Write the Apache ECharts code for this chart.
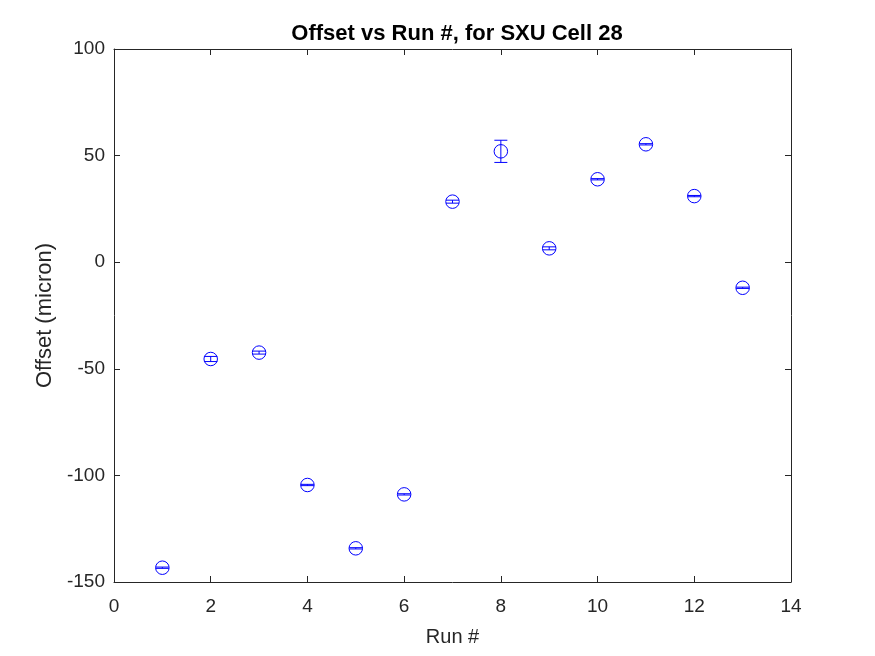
<!DOCTYPE html>
<html>
<head>
<meta charset="utf-8">
<script src="https://cdn.jsdelivr.net/npm/echarts@6/dist/echarts.min.js"></script>
<style>html,body{margin:0;padding:0;background:#fff;}#c{width:875px;height:656px;}</style>
</head>
<body>
<div id="c"></div>
<script>
var runs = [1,2,3,4,5,6,7,8,9,10,11,12,13];
var offsets = [-143.3,-45.4,-42.4,-104.5,-134.2,-108.9,28.4,52.0,6.5,38.9,55.3,31.0,-12.0];
var errors = [0.3,1.2,0.7,0.3,0.3,0.3,0.7,5.2,0.7,0.3,0.3,0.3,0.3];
var xTicks = [0,2,4,6,8,10,12,14];
var yTicks = [-150,-100,-50,0,50,100];

var pts = runs.map(function(r,i){return [r, offsets[i], errors[i]];});
var font = 'Liberation Sans, Arial, sans-serif';
var axColor = '#262626';

var chart = echarts.init(document.getElementById('c'), null, {renderer:'canvas'});
function baseX(pos, labels){
  return {type:'value', position:pos, min:xTicks[0], max:xTicks[xTicks.length-1], interval:xTicks[1]-xTicks[0],
    axisLine:{show:true, onZero:false, lineStyle:{color:axColor,width:1}},
    axisTick:{show:true, inside:true, length:6, lineStyle:{color:axColor}},
    axisLabel:{show:labels, color:axColor, fontSize:19, fontFamily:font, margin:15},
    splitLine:{show:false},
    name: labels ? 'Run #' : '', nameLocation:'middle', nameGap:45,
    nameTextStyle:{color:axColor, fontSize:20, fontFamily:font}};
}
function baseY(pos, labels){
  return {type:'value', position:pos, min:yTicks[0], max:yTicks[yTicks.length-1], interval:yTicks[1]-yTicks[0],
    axisLine:{show:true, onZero:false, lineStyle:{color:axColor,width:1}},
    axisTick:{show:true, inside:true, length:6, lineStyle:{color:axColor}},
    axisLabel:{show:labels, color:axColor, fontSize:19, fontFamily:font, margin:9},
    splitLine:{show:false},
    name: labels ? 'Offset (micron)' : '', nameLocation:'middle', nameGap:58,
    nameTextStyle:{color:axColor, fontSize:22, fontFamily:font}};
}
chart.setOption({
  animation:false,
  backgroundColor:'#fff',
  title:{text:'Offset vs Run #, for SXU Cell 28', left:452, top:18, textAlign:'center',
    textStyle:{fontSize:22, fontWeight:'bold', color:'#000', fontFamily:font}},
  grid:{left:114, right:84, top:49, bottom:74, containLabel:false},
  xAxis:[baseX('bottom', true), baseX('top', false)],
  yAxis:[baseY('left', true), baseY('right', false)],
  series:[
    {type:'custom', xAxisIndex:0, yAxisIndex:0, data:pts,
     renderItem:function(params, api){
       var x = api.value(0), y = api.value(1), e = api.value(2);
       var lo = api.coord([x, y-e]), hi = api.coord([x, y+e]);
       var hw = 6.5;
       var st = {stroke:'#0000ff', lineWidth:1, fill:null};
       return {type:'group', children:[
         {type:'line', shape:{x1:lo[0],y1:lo[1],x2:hi[0],y2:hi[1]}, style:st},
         {type:'line', shape:{x1:lo[0]-hw,y1:lo[1],x2:lo[0]+hw,y2:lo[1]}, style:st},
         {type:'line', shape:{x1:hi[0]-hw,y1:hi[1],x2:hi[0]+hw,y2:hi[1]}, style:st}
       ]};
     }, z:3},
    {type:'scatter', xAxisIndex:0, yAxisIndex:0, data:pts.map(function(p){return [p[0],p[1]];}),
     symbol:'circle', symbolSize:13.5,
     itemStyle:{color:'rgba(0,0,0,0)', borderColor:'#0000ff', borderWidth:1, opacity:1},
     z:2}
  ]
});
</script>
</body>
</html>
